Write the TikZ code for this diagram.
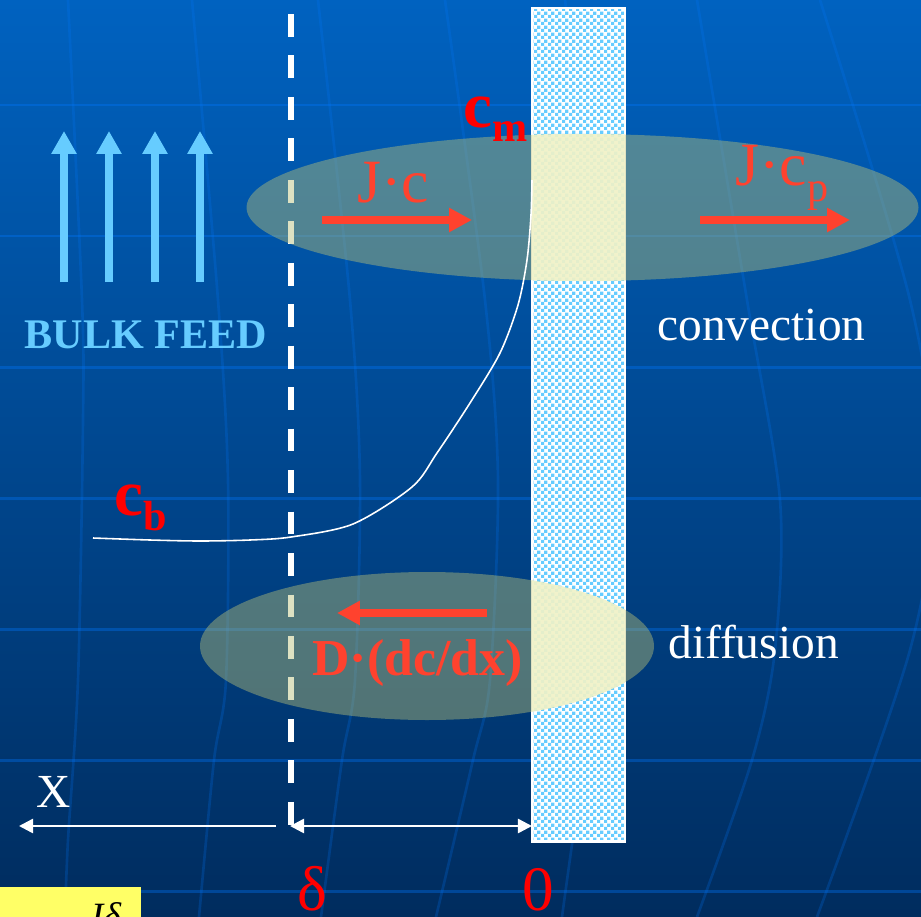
\documentclass[tikz,border=0pt]{standalone}
\usepackage{fontspec}
\setmainfont{Liberation Serif}
\usetikzlibrary{arrows.meta,patterns.meta}
\definecolor{bgtop}{RGB}{0,98,192}
\definecolor{bgbot}{RGB}{0,44,94}
\definecolor{gridc}{RGB}{0,120,255}
\definecolor{feedc}{RGB}{102,204,255}
\definecolor{memc}{RGB}{102,204,255}
\definecolor{ellc}{RGB}{180,190,120}
\definecolor{palec}{RGB}{245,246,205}
\definecolor{fluxred}{RGB}{255,66,46}
\definecolor{yel}{RGB}{255,255,102}
\tikzdeclarepattern{name=memcheck, type=uncolored,
  bounding box={(0pt,0pt) and (3.8pt,3.8pt)}, tile size={(3.8pt,3.8pt)},
  code={\fill (0pt,0pt) rectangle (1.9pt,1.9pt); \fill (1.9pt,1.9pt) rectangle (3.8pt,3.8pt);}}
\tikzset{
  tx/.style={inner sep=0pt, anchor=base west},
  gridline/.style={draw=gridc, draw opacity=0.35, line width=1.7pt},
  meridian/.style={draw=gridc, draw opacity=0.22, line width=1.5pt},
  fluxarrow/.style={draw=fluxred, line width=4.5pt, -{Triangle[length=13pt,width=13pt]}},
  feedarrow/.style={draw=feedc, line width=4.5pt, -{Triangle[length=13pt,width=13.6pt]}},
  axisarrow/.style={draw=white, line width=1.4pt},
  blob/.style={fill=ellc, fill opacity=0.45},
  paleblob/.style={fill=palec, fill opacity=0.85},
}
\begin{document}
\begin{tikzpicture}[x=0.02cm, y=-0.02cm]
\useasboundingbox (0,0) rectangle (921,917);
% background
\shade[top color=bgtop, bottom color=bgbot] (0,0) rectangle (921,917);
% grid
\foreach \yy in {105,236,367,498,629,760,891} \draw[gridline] (0,\yy) -- (921,\yy);
\draw[meridian] plot[smooth] coordinates {(68,0) (82,300) (83,420) (78,680) (68,840) (65,917)};
\draw[meridian] plot[smooth] coordinates {(192,0) (218,300) (228,480) (226,680) (214,760) (199,917)};
\draw[meridian] plot[smooth] coordinates {(318,0) (350,300) (360,480) (355,680) (342,760) (321,917)};
\draw[meridian] plot[smooth] coordinates {(445,0) (485,300) (498,480) (490,680) (473,760) (436,917)};
\draw[meridian] plot[smooth] coordinates {(565,0) (605,300) (620,480) (608,680) (585,760) (562,917)};
\draw[meridian] plot[smooth] coordinates {(697,0) (747,300) (780,500) (775,650) (752,760) (697,917)};
\draw[meridian] plot[smooth] coordinates {(820,0) (910,300) (935,480) (910,650) (817,917)};
% membrane
\fill[white] (532,8) rectangle (625,841);
\fill[pattern=memcheck, pattern color=memc] (532,8) rectangle (625,841);
\draw[white, line width=1.7pt] (532,8) rectangle (625,841);
% boundary layer edge
\draw[white, line width=3.3pt, dash pattern=on 13pt off 10.6pt] (291,14) -- (291,825);
% ellipses
\fill[blob] (582.5,207.5) ellipse [x radius=336, y radius=73.5];
\fill[blob] (427,646) ellipse [x radius=227, y radius=74];
\begin{scope}
  \clip (532,8) rectangle (625,841);
  \fill[paleblob] (582.5,207.5) ellipse [x radius=336, y radius=73.5];
  \fill[paleblob] (427,646) ellipse [x radius=227, y radius=74];
\end{scope}
% bulk feed arrows
\foreach \xx/\nm in {64/fa,109/fb,155/fc,200/fd} {
  \coordinate (\nm s) at (\xx,282);
  \coordinate (\nm e) at (\xx,131);
  \draw[feedarrow] (\nm s) -- (\nm e);
}
\node[inner sep=0pt, anchor=base, text=feedc, font=\bfseries\fontsize{24}{24}\selectfont] (feed) at (146,348) {BULK FEED};
% flux arrows
\coordinate (j1s) at (322,220); \coordinate (j1e) at (472,220);
\coordinate (j2s) at (700,220); \coordinate (j2e) at (850,220);
\coordinate (d1s) at (487,613); \coordinate (d1e) at (337,613);
\draw[fluxarrow] (j1s) -- (j1e);
\draw[fluxarrow] (j2s) -- (j2e);
\draw[fluxarrow] (d1s) -- (d1e);
\node[tx, text=fluxred, font=\fontsize{35}{35}\selectfont] (jc) at (357,202) {J·c};
\node[tx, text=fluxred, font=\fontsize{35}{35}\selectfont] (jcp) at (735,185) {J·c\raisebox{-9.6pt}{\fontsize{24}{24}\selectfont p}};
\node[tx, text=fluxred, font=\bfseries\fontsize{29.5}{29.5}\selectfont] (diff) at (312,675) {D·(dc/dx)};
% concentrations
\node[tx, text=red, font=\bfseries] (cm) at (463,127) {{\fontsize{37}{37}\selectfont c}\raisebox{-8.5pt}{\fontsize{24}{24}\selectfont m}};
\node[tx, text=red, font=\bfseries] (cb) at (114,515) {{\fontsize{37}{37}\selectfont c}\raisebox{-9pt}{\fontsize{24}{24}\selectfont b}};
% labels
\node[tx, text=white, font=\fontsize{27}{27}\selectfont] (conv) at (657,340) {convection};
\node[tx, text=white, font=\fontsize{27}{27}\selectfont] (difl) at (668,658) {diffusion};
\node[tx, text=white, font=\fontsize{27}{27}\selectfont] (xl) at (36,807) {X};
\node[tx, text=red, font=\fontsize{36}{36}\selectfont] (dl) at (297,910) {δ};
\node[tx, text=red, font=\fontsize{36}{36}\selectfont] (zl) at (522,910) {0};
% concentration profile
\draw[white, line width=0.9pt] plot[smooth] coordinates {(93,538) (150,540) (200,541) (250,540) (291,537) (353,524) (412,487) (437,453) (470,403) (500,353) (518,305) (527,260) (531,215) (532,180)};
% axis arrows
\coordinate (xa) at (276,826); \coordinate (xb) at (19,826);
\coordinate (da) at (290,826); \coordinate (db) at (532,826);
\draw[axisarrow, -{Triangle[length=8pt,width=8pt]}] (xa) -- (xb);
\draw[axisarrow, {Triangle[length=8pt,width=8pt]}-{Triangle[length=8pt,width=8pt]}] (da) -- (db);
% yellow box
\fill[yel] (0,887) rectangle (141,917);
\node[tx, text=black, font=\itshape\fontsize{22}{22}\selectfont] (jd) at (86,929) {Jδ};
\end{tikzpicture}
\end{document}
